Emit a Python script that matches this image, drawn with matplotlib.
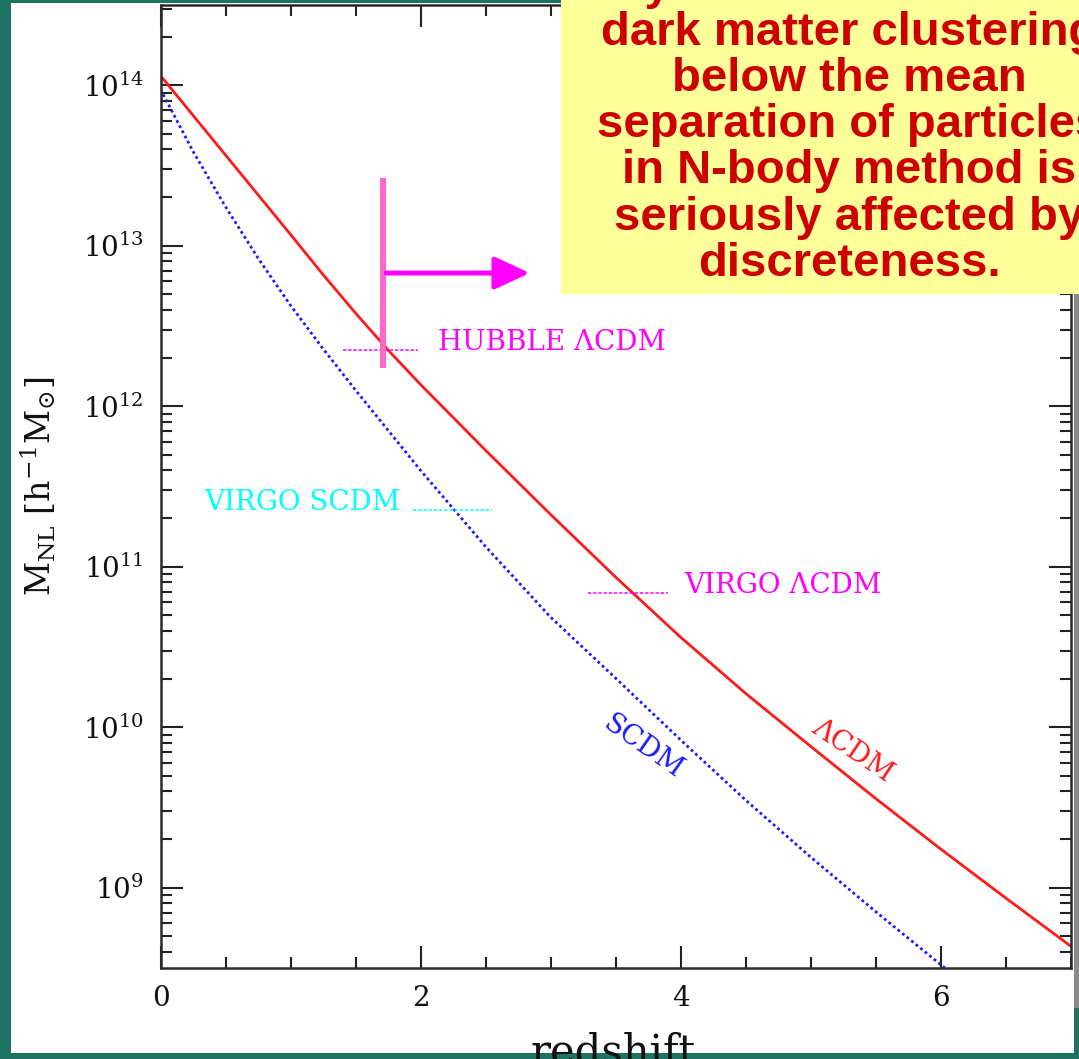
import matplotlib
matplotlib.use("Agg")
import matplotlib.pyplot as plt
from matplotlib.patches import Rectangle
from matplotlib.ticker import LogLocator, LogFormatterMathtext, MultipleLocator, NullFormatter

plt.rcParams['font.family'] = 'DejaVu Serif'
plt.rcParams['mathtext.fontset'] = 'dejavuserif'

# Nonlinear mass scale M_NL(z), stored as log10(M / h^-1 Msun)
z_lcdm = [0.0, 0.5, 1.0, 1.25, 1.5, 1.75, 2.0, 2.5, 3.0, 3.5, 4.0, 4.5, 5.0, 5.5, 6.0, 6.5, 7.0]
logm_lcdm = [14.06, 13.565, 13.07, 12.82, 12.58, 12.35, 12.135, 11.725, 11.325, 10.935,
             10.56, 10.21, 9.88, 9.555, 9.24, 8.935, 8.635]
z_scdm = [0.0, 0.25, 0.5, 0.75, 1.0, 1.25, 1.5, 2.0, 2.5, 3.0, 3.5, 4.0, 4.5, 5.0, 5.5, 6.03]
logm_scdm = [13.975, 13.588, 13.243, 12.923, 12.628, 12.358, 12.10, 11.60, 11.125, 10.685,
             10.305, 9.92, 9.545, 9.19, 8.85, 8.50]

# Particle masses of the simulations and the redshift span of each marker
sim_names = ['HUBBLE \u039bCDM', 'VIRGO SCDM', 'VIRGO \u039bCDM']
sim_mass = [2.25e12, 2.27e11, 6.86e10]
sim_zrange = [(1.405, 1.98), (1.94, 2.55), (3.29, 3.90)]
sim_colors = ['#ff00ff', '#00ffff', '#ff00ff']

# Scale marker and arrow
bar_z = 1.712
bar_logm = (12.237, 13.42)
arrow_z = (1.735, 2.84)
arrow_logm = 12.83

note_lines = ['Beyond the scale of the',
              'dark matter clustering',
              'below the mean',
              'separation of particles',
              'in N-body method is',
              'seriously affected by',
              'discreteness.']

W, H = 1079, 1059
fig = plt.figure(figsize=(W / 100, H / 100), dpi=100, facecolor='#1e7263')

# white slide panel and its grey edge
fig.patches.append(Rectangle((11 / W, 6 / H), (1074 - 11) / W, (1056 - 6) / H,
                             transform=fig.transFigure, facecolor='white',
                             edgecolor='none', zorder=-2))
fig.patches.append(Rectangle((1074 / W, (H - 1008) / H), 5 / W, 1008 / H,
                             transform=fig.transFigure, facecolor='#8a8a8a',
                             edgecolor='none', zorder=-1))

ax = fig.add_axes([160.5 / W, (H - 968) / H, (1071 - 160.5) / W, (968 - 5) / H])
ax.set_facecolor('none')

ax.plot(z_lcdm, [10 ** v for v in logm_lcdm], color='#ff1a1a', lw=2.0)
ax.plot(z_scdm, [10 ** v for v in logm_scdm], color='#1a1aff', lw=2.0,
        linestyle=(0, (1, 1.1)))

for name, m, (z0, z1), c in zip(sim_names, sim_mass, sim_zrange, sim_colors):
    ax.plot([z0, z1], [m, m], color=c, lw=1.1, linestyle=(0, (2.2, 1.2)))

ax.text(2.135, sim_mass[0], sim_names[0], color=sim_colors[0], fontsize=20,
        ha='left', va='baseline')
ax.text(1.843, sim_mass[1], sim_names[1], color=sim_colors[1], fontsize=20,
        ha='right', va='baseline')
ax.text(4.027, sim_mass[2], sim_names[2], color=sim_colors[2], fontsize=20,
        ha='left', va='baseline')

ax.text(3.71, 10 ** 9.875, 'SCDM', color='#1a1aff', fontsize=20, rotation=-35,
        ha='center', va='center', rotation_mode='anchor')
ax.text(5.32, 10 ** 9.857, '\u039bCDM', color='#ff1a1a', fontsize=20, rotation=-34,
        ha='center', va='center', rotation_mode='anchor')

ax.plot([bar_z, bar_z], [10 ** bar_logm[0], 10 ** bar_logm[1]], color='#ff66cc',
        lw=4.4, solid_capstyle='butt')
ax.annotate('', xy=(arrow_z[1], 10 ** arrow_logm), xytext=(arrow_z[0], 10 ** arrow_logm),
            arrowprops=dict(arrowstyle='-|>,head_length=1.08,head_width=0.5',
                            mutation_scale=20, lw=3.6, color='#ff00ff',
                            shrinkA=0, shrinkB=0))

ax.set_yscale('log')
ax.set_xlim(0, 7)
ax.set_ylim(10 ** 8.5, 10 ** 14.5)
ax.xaxis.set_major_locator(MultipleLocator(2))
ax.xaxis.set_minor_locator(MultipleLocator(0.5))
ax.yaxis.set_major_locator(LogLocator(base=10))
ax.yaxis.set_major_formatter(LogFormatterMathtext())
ax.yaxis.set_minor_locator(LogLocator(base=10, subs=range(2, 10)))
ax.yaxis.set_minor_formatter(NullFormatter())
ax.tick_params(which='both', direction='in', top=True, right=True,
               color='#222222', width=1.5, labelsize=20, labelcolor='#111111')
ax.tick_params(which='major', length=16, pad=12)
ax.tick_params(which='minor', length=8)
for s in ax.spines.values():
    s.set_color('#2a2a2a')
    s.set_linewidth(1.8)

ax.set_xlabel('redshift', fontsize=30, color='#111111')
ax.set_ylabel(r'$\mathrm{M_{NL}}$ [h$^{-1}$M$_{\odot}$]', fontsize=24, color='#111111')
ax.xaxis.set_label_coords(0.497, -0.066)
ax.yaxis.set_label_coords(-0.113, 0.5)

# yellow note box
fig.patches.append(Rectangle((561 / W, (H - 294) / H), (W - 561) / W, 294 / H + 0.01,
                             transform=fig.transFigure, facecolor='#ffff99',
                             edgecolor='none', zorder=5))
for i, line in enumerate(note_lines):
    base = -1.0 + 46.1 * i
    fig.text(849 / W, 1 - base / H, line, color='#cc0000', fontsize=34,
             family='Liberation Sans', weight='bold', ha='center', va='baseline',
             zorder=6)

fig.savefig('out.png', dpi=100, facecolor=fig.get_facecolor())
